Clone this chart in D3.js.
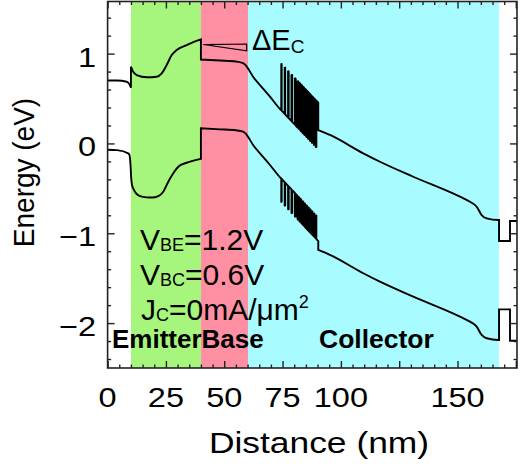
<!DOCTYPE html>
<html><head><meta charset="utf-8">
<script src="https://cdn.jsdelivr.net/npm/d3@7"></script>
<style>
body{margin:0;background:#fff}
text{font-family:"Liberation Sans",Arial,Helvetica,sans-serif;fill:#000}
</style>
</head><body>
<svg id="chart" width="525" height="468"></svg>
<script>
// ---------------- data ----------------
const xDomain = [0, 175.5];
const yDomain = [-2.5, 1.58];
const xTickLabels = [0, 25, 50, 75, 100, 150];
const xMajorTicks = [0, 25, 50, 75, 100, 125, 150, 175];
const yTickLabels = [-2, -1, 0, 1];

const regionNames = ["Emitter", "Base", "Collector"];
const regionStart = [10.0, 40.0, 60.2];
const regionEnd   = [40.0, 60.2, 167.8];

// conduction band (nm, eV)
const cbCap = [[0,0.700],[4,0.700],[8.19,0.687],[9.3,0.660],[10.0,0.620]];
const cbEmitter = [[10.0,0.854],[10.9,0.800],[12.47,0.761],[16.76,0.736],[21.05,0.743],[23.19,0.780],[25.33,0.873],[27.48,0.984],[29.62,1.040],[33.9,1.095],[36.73,1.129],[40.0,1.159]];
const cbBase = [[40.0,0.934],[48.18,0.923],[55.04,0.912],[58.04,0.895],[59.33,0.867],[60.61,0.817],[62.45,0.739],[65.33,0.650],[69.62,0.520],[73.91,0.383],[74.33,0.372]];
// chirped superlattice: barrier edges with band energies at each edge
const cbSL = [
 [74.45,0.369],[74.45,0.889],[74.62,0.884],[74.62,0.364],
 [75.91,0.329],[75.91,0.849],[76.13,0.843],[76.13,0.323],
 [77.37,0.288],[77.37,0.808],[77.63,0.801],[77.63,0.281],
 [78.83,0.248],[78.83,0.768],[79.13,0.760],[79.13,0.240],
 [80.28,0.209],[80.28,0.729],[80.63,0.719],[80.63,0.199],
 [81.44,0.177],[81.44,0.697],[81.78,0.687],[81.78,0.167],
 [82.21,0.156],[82.21,0.676],[82.64,0.664],[82.64,0.144],
 [83.03,0.133],[83.03,0.653],[83.46,0.641],[83.46,0.121],
 [83.84,0.111],[83.84,0.631],[84.27,0.619],[84.27,0.099],
 [84.61,0.090],[84.61,0.610],[85.13,0.595],[85.13,0.075],
 [85.43,0.067],[85.43,0.587],[85.94,0.573],[85.94,0.053],
 [86.24,0.045],[86.24,0.565],[86.76,0.551],[86.76,0.031],
 [87.01,0.024],[87.01,0.544],[87.57,0.528],[87.57,0.008],
 [87.83,0.001],[87.83,0.521],[88.43,0.505],[88.43,-0.015],
 [88.65,-0.021],[88.65,0.499],[89.24,0.482],[89.24,-0.038],
 [89.50,-0.045],[89.50,0.475],[90.31,0.453]];
const cbCollector = [[90.31,0.149],[95.33,0.094],[109.6,-0.110],[116.76,-0.204],[131.03,-0.371],[151.05,-0.593],[155.34,-0.649],[158.21,-0.705],[160.35,-0.797],[162.5,-0.834],[167.47,-0.853],[167.8,-0.853]];
const cbSub = [[167.8,-1.087],[172.5,-1.087],[172.5,-0.864],[175.5,-0.864]];

// valence band (nm, eV)
const vbCapEmitter = [[0,-0.070],[4,-0.075],[8.87,-0.110],[9.39,-0.129],[9.82,-0.240],[10.12,-0.385],[10.46,-0.463],[11.32,-0.519],[12.47,-0.563],[13.89,-0.586],[16.76,-0.600],[19.03,-0.602],[21.73,-0.586],[23.87,-0.538],[26.02,-0.426],[28.16,-0.333],[30.3,-0.259],[33.9,-0.215],[40.0,-0.172]];
const vbBase = [[40.0,0.168],[48.18,0.157],[55.04,0.146],[58.04,0.132],[59.33,0.107],[60.61,0.057],[62.45,-0.021],[65.33,-0.110],[69.62,-0.240],[73.91,-0.377],[74.33,-0.388]];
const vbSL = [
 [74.45,-0.391],[74.45,-0.651],[74.62,-0.656],[74.62,-0.396],
 [75.91,-0.431],[75.91,-0.691],[76.13,-0.697],[76.13,-0.437],
 [77.37,-0.472],[77.37,-0.732],[77.63,-0.739],[77.63,-0.479],
 [78.83,-0.512],[78.83,-0.772],[79.13,-0.780],[79.13,-0.520],
 [80.28,-0.551],[80.28,-0.811],[80.63,-0.821],[80.63,-0.561],
 [81.44,-0.583],[81.44,-0.843],[81.78,-0.853],[81.78,-0.593],
 [82.21,-0.604],[82.21,-0.864],[82.64,-0.876],[82.64,-0.616],
 [83.03,-0.627],[83.03,-0.887],[83.46,-0.899],[83.46,-0.639],
 [83.84,-0.649],[83.84,-0.909],[84.27,-0.921],[84.27,-0.661],
 [84.61,-0.670],[84.61,-0.930],[85.13,-0.945],[85.13,-0.685],
 [85.43,-0.693],[85.43,-0.953],[85.94,-0.967],[85.94,-0.707],
 [86.24,-0.715],[86.24,-0.975],[86.76,-0.989],[86.76,-0.729],
 [87.01,-0.736],[87.01,-0.996],[87.57,-1.012],[87.57,-0.752],
 [87.83,-0.759],[87.83,-1.019],[88.43,-1.035],[88.43,-0.775],
 [88.65,-0.781],[88.65,-1.041],[89.24,-1.058],[89.24,-0.798],
 [89.50,-0.805],[89.50,-1.065],[90.31,-1.087]];
const vbCollector = [[90.31,-1.186],[95.33,-1.241],[109.6,-1.445],[116.76,-1.539],[131.03,-1.706],[151.05,-1.928],[155.34,-1.984],[158.21,-2.040],[160.35,-2.132],[162.5,-2.169],[167.47,-2.188],[167.8,-2.188]];
const vbSub = [[167.8,-1.847],[172.5,-1.847],[172.5,-2.196],[175.5,-2.196]];

// ΔEc marker (nm, eV)
const deltaEcMarker = [[41.0,1.101],[59.6,1.107],[59.6,1.032]];

// ---------------- style ----------------
const regionColors = {Emitter:"#a6f57c", Base:"#ff8fa2", Collector:"#a8fcff"};
const plot = {left:107.6, right:517, top:1.5, bottom:368};
const textStretch = 1.16;

const svg = d3.select("#chart");
const x = d3.scaleLinear().domain(xDomain).range([plot.left, plot.right]);
const y = d3.scaleLinear().domain(yDomain).range([plot.bottom, plot.top]);

svg.append("defs").append("clipPath").attr("id","clip")
  .append("rect").attr("x",plot.left).attr("y",plot.top)
  .attr("width",plot.right-plot.left).attr("height",plot.bottom-plot.top);

// regions
svg.append("g").selectAll("rect").data(regionNames).join("rect")
  .attr("x",(d,i)=>x(regionStart[i]))
  .attr("width",(d,i)=>x(regionEnd[i])-x(regionStart[i]))
  .attr("y",plot.top).attr("height",plot.bottom-plot.top)
  .attr("fill",d=>regionColors[d]);

// band lines
const smooth = d3.line().x(d=>x(d[0])).y(d=>y(d[1])).curve(d3.curveMonotoneX);
const straight = d3.line().x(d=>x(d[0])).y(d=>y(d[1])).curve(d3.curveLinear);
function joined(parts){
  return parts.map((p,i)=>{const s=p[1](p[0]); return i===0?s:s.replace(/^M/,"L");}).join("");
}
const cbPath = joined([[cbCap,smooth],[cbEmitter,smooth],[cbBase,smooth],[cbSL,straight],[cbCollector,smooth],[cbSub,straight]]);
const vbPath = joined([[vbCapEmitter,smooth],[vbBase,smooth],[vbSL,straight],[vbCollector,smooth],[vbSub,straight]]);
const bands = svg.append("g").attr("clip-path","url(#clip)");
[cbPath, vbPath].forEach(p=>bands.append("path").attr("d",p)
  .attr("fill","none").attr("stroke","#000").attr("stroke-width",1.9)
  .attr("stroke-linejoin","miter").attr("stroke-miterlimit",2));

// delta Ec marker
svg.append("path").attr("d", straight(deltaEcMarker)+"Z")
  .attr("fill","none").attr("stroke","#000").attr("stroke-width",1.2);

// axes (ticks inward on all sides)
const minorX = d3.range(0, 176, 5).filter(v=>!xMajorTicks.includes(v));
const minorY = d3.range(-24, 16, 2).map(v=>v/10).filter(v=>!Number.isInteger(v));
const majorY = [-2,-1,0,1];
function addAxis(axisGen, tx, ty, len, values){
  const g = svg.append("g").attr("transform",`translate(${tx},${ty})`)
    .call(axisGen.tickValues(values).tickSize(len).tickFormat(""));
  g.select(".domain").remove();
  g.selectAll("line").attr("stroke","#222").attr("stroke-width",1.4);
}
addAxis(d3.axisTop(x), 0, plot.bottom, 7, xMajorTicks);
addAxis(d3.axisTop(x), 0, plot.bottom, 3.5, minorX);
addAxis(d3.axisBottom(x), 0, plot.top, 7, xMajorTicks);
addAxis(d3.axisBottom(x), 0, plot.top, 3.5, minorX);
addAxis(d3.axisRight(y), plot.left, 0, 7, majorY);
addAxis(d3.axisRight(y), plot.left, 0, 3.5, minorY);
addAxis(d3.axisLeft(y), plot.right, 0, 7, majorY);
addAxis(d3.axisLeft(y), plot.right, 0, 3.5, minorY);

svg.append("rect").attr("x",plot.left).attr("y",plot.top)
  .attr("width",plot.right-plot.left).attr("height",plot.bottom-plot.top)
  .attr("fill","none").attr("stroke","#222").attr("stroke-width",1.6);

// tick labels
const fmt = d3.format("d");
svg.append("g").selectAll("text").data(xTickLabels).join("text")
  .attr("transform",d=>`translate(${x(d)},407) scale(${textStretch},1)`)
  .attr("text-anchor","middle").attr("font-size",28).text(d=>fmt(d));
svg.append("g").selectAll("text").data(yTickLabels).join("text")
  .attr("transform",d=>`translate(96,${y(d)+13}) scale(${textStretch},1)`)
  .attr("text-anchor","end").attr("font-size",28).text(d=>fmt(d));

// axis titles
svg.append("text").attr("transform",`translate(319,453) scale(1.18,1)`)
  .attr("text-anchor","middle").attr("font-size",30).text("Distance (nm)");
svg.append("text").attr("transform","translate(34,172.5) rotate(-90) scale(1,1.08)")
  .attr("text-anchor","middle").attr("font-size",28).text("Energy (eV)");

// annotations
function sub(xp, yp, main, subTxt, rest, size, subSize, subShift){
  const t = svg.append("text").attr("x",xp).attr("y",yp).attr("font-size",size);
  t.append("tspan").text(main);
  t.append("tspan").attr("font-size",subSize).attr("dy",subShift).text(subTxt);
  if(rest) t.append("tspan").attr("dy",-subShift).text(rest);
  return t;
}
sub(252, 50, "ΔE", "C", "", 29, 19, 3);
sub(140, 250, "V", "BE", "=1.2V", 30, 18, 1);
sub(140, 285, "V", "BC", "=0.6V", 30, 18, 1);
const jt = sub(141, 320, "J", "C", "=0mA/μm", 30, 18, 1);
jt.append("tspan").attr("font-size",18).attr("dy",-12).text("2");

svg.append("text").attr("x",112).attr("y",348).attr("font-size",26)
  .attr("font-weight","bold").text("EmitterBase");
svg.append("text").attr("x",319).attr("y",348).attr("font-size",26.5)
  .attr("font-weight","bold").text("Collector");
</script>
</body></html>
